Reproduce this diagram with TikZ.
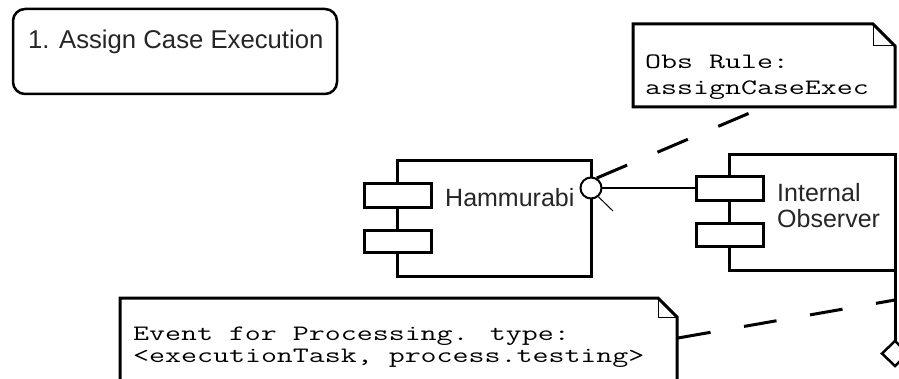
\documentclass[tikz,border=0pt]{standalone}
\usepackage{fontspec}
\setmainfont{Liberation Sans}
\newfontfamily\notefont[FakeStretch=1.41]{Latin Modern Mono}
\begin{document}
\begin{tikzpicture}[x=1pt,y=-1pt,
  frame/.style={draw=black,line width=3pt,fill=white},
  port/.style={draw=black,line width=3pt,fill=white},
  label/.style={inner sep=0pt,anchor=base west,font=\fontsize{25}{27}\selectfont,text=black!85},
  notetext/.style={inner sep=0pt,anchor=base west,text height=13pt,text depth=3pt,
    font=\notefont\fontsize{22}{22}\selectfont},
  link/.style={draw=black,line width=3pt,dash pattern=on 33pt off 33pt},
  conn/.style={draw=black,line width=2.5pt}]
\clip (0,0) rectangle (899,379);
\fill[white] (0,0) rectangle (899,379);

% state box
\draw[line width=2.5pt,rounded corners=12pt] (13,9) rectangle (337,94);
\node[label,font=\fontsize{25.7}{27}\selectfont] (title) at (28,48.5) {1. Assign Case Execution};

% Hammurabi component
\draw[frame] (397,161) rectangle (591,277);
\draw[port] (364,184) rectangle (431,208);
\draw[port] (364,231) rectangle (431,253);
\node[label] (ham) at (445,206.5) {Hammurabi};

% Internal Observer component (its right side runs on down to the diamond)
\draw[frame] (729,155) rectangle (895,271);
\draw[line width=3pt] (895,271) -- (895,342);
\draw[port] (696,177) rectangle (763,201);
\draw[port] (696,224) rectangle (763,247);
\node[label] (obsA) at (777,201.5) {Internal};
\node[label] (obsB) at (777,228) {Observer};
\draw[line width=2.5pt,fill=white] (895,341) -- (882,353.5) -- (895,366) -- (908,353.5) -- cycle;

% provided interface between the two components
\coordinate (ipcL) at (696,188);
\draw[conn] (601,188) -- (ipcL);
\node[draw=black,line width=2pt,fill=white,circle,minimum size=21pt,inner sep=0pt] (ball) at (591,188) {};
\draw[line width=1pt] (ball.-50) -- (613,211);

% note: observation rule
\draw[line width=3pt,fill=white] (633,24) -- (873,24) -- (895,46) -- (895,107) -- (633,107) -- cycle;
\draw[line width=1pt] (873,24) -- (873,46) -- (895,46);
\node[notetext] (rA) at (645,68.5) {Obs Rule:};
\node[notetext] (rB) at (645,95) {assignCaseExec};

% note: event
\draw[line width=3pt,fill=white] (120,385) -- (120,298) -- (658,298) -- (677,317) -- (677,385);
\draw[line width=1pt] (658,298) -- (658,317) -- (677,317);
\node[notetext] (eA) at (133,340) {Event for Processing. type:};
\node[notetext] (eB) at (133,362) {<executionTask, process.testing>};

% note anchors
\coordinate (ruleEnd) at (752,112);
\coordinate (eventStart) at (678,338);
\coordinate (eventEnd) at (895,300);
\draw[link] (ball.60) -- (ruleEnd);
\draw[link,dash pattern=on 33pt off 34pt] (eventStart) -- (eventEnd);
\end{tikzpicture}
\end{document}
